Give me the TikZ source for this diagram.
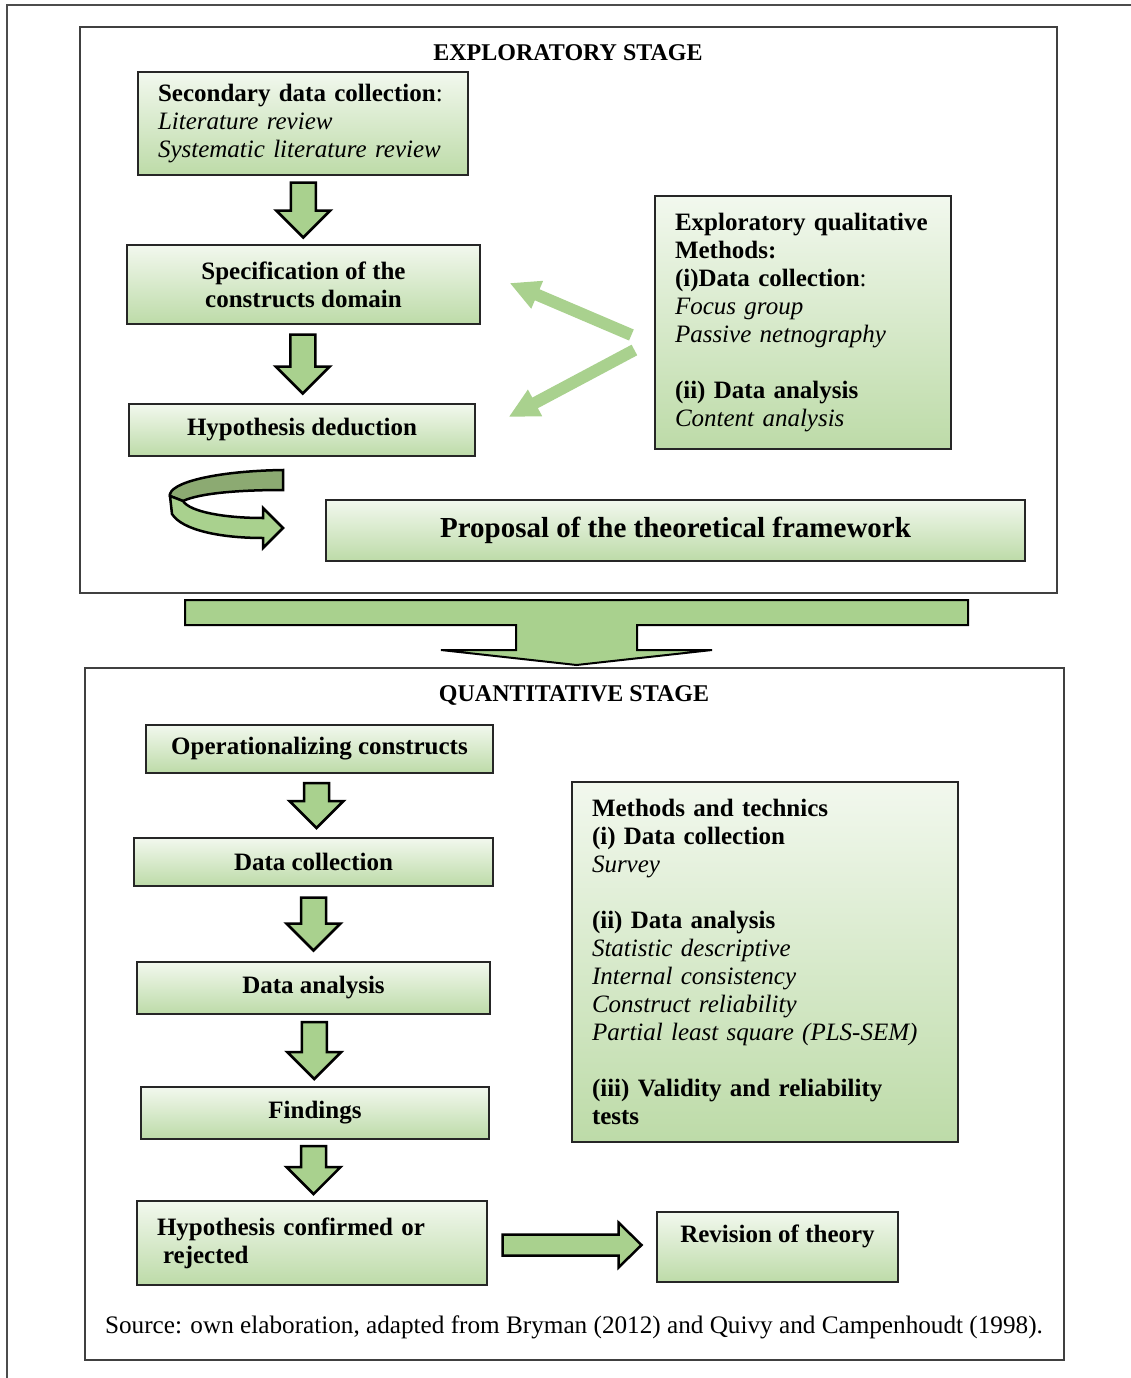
\documentclass[tikz,border=0pt]{standalone}
\usepackage{fontspec}
\setmainfont{Liberation Serif}
\usepackage{xcolor}
\usepackage{tikz}
\usetikzlibrary{calc,arrows.meta}

\definecolor{vertfleche}{HTML}{A9D18E}
\definecolor{vertfonce}{HTML}{8CAA72}
\definecolor{verthaut}{HTML}{F2F8EE}
\definecolor{vertbas}{HTML}{BDDBA8}

\begin{document}
\begin{tikzpicture}[x=1pt,y=-1pt]
% Styles (MODIFIABLES)
\tikzstyle{boite}=[draw=black!85,line width=1.2pt,top color=verthaut,bottom color=vertbas,inner sep=0pt,font=\fontsize{25}{28}\selectfont\bfseries,align=center]
\tikzstyle{boiteliste}=[boite,font=\fontsize{25}{28}\selectfont,align=left,inner xsep=20pt]
\tikzstyle{etape}=[draw=black!75,line width=1.5pt,inner sep=0pt]
\tikzstyle{titre}=[font=\fontsize{24}{28}\selectfont\bfseries]
\tikzstyle{flechebloc}=[draw=black,line width=2.5pt,fill=vertfleche,line join=miter]
\tikzstyle{flechefine}=[vertfleche,line width=12pt,-{Triangle[length=30pt,width=28pt]}]
% Fleches epaisses (NON MODIFIABLES)
\def\FlecheBas#1#2#3{\draw[flechebloc] ($(#1.south)!0.5!(#2.north)$) ++(-12.5,{-#3/2}) -- ++(25,0) -- ++(0,{#3-27}) -- ++(14.5,0) -- ++(-27,27) -- ++(-27,-27) -- ++(14.5,0) -- cycle;}
\def\FlecheDroite#1#2#3{\draw[flechebloc] ($(#1.east)!0.5!(#2.west)$) ++({-#3/2},-10.5) -- ++({#3-23},0) -- ++(0,-12) -- ++(23,22.5) -- ++(-23,22.5) -- ++(0,-12) -- ++({23-#3},0) -- cycle;}
\useasboundingbox (0,0) rectangle (1131,1378);
% Cadre
\draw[black!70,line width=1.2pt] (7,1378) -- (7,5) -- (1131,5);
% Etapes
\node[etape,minimum width=977pt,minimum height=566pt] (explo) at (568.5,310) {};
\node[etape,minimum width=979pt,minimum height=692pt] (quanti) at (574.5,1014) {};
\node[titre] (titreexplo) at (568,53) {EXPLORATORY STAGE};
\node[titre] (titrequanti) at (574,695) {QUANTITATIVE STAGE};
% Noeuds (etape exploratoire)
\node[boiteliste,minimum width=330pt,minimum height=103pt,text width=290pt] (sec) at (303,123.5) {\textbf{Secondary data collection}:\\ \textit{Literature review}\\ \textit{Systematic literature review}};
\node[boite,minimum width=353pt,minimum height=79pt] (spec) at (303.5,284.5) {Specification of the\\ constructs domain};
\node[boite,minimum width=346pt,minimum height=52pt] (hyp) at (302,430) {Hypothesis deduction};
\node[boiteliste,minimum width=296pt,minimum height=253pt,text width=256pt] (qual) at (803,322.5) {\textbf{Exploratory qualitative}\\ \textbf{Methods:}\\ \textbf{(i)Data collection}:\\ \textit{Focus group}\\ \textit{Passive netnography}\\[28pt] \textbf{(ii) Data analysis}\\ \textit{Content analysis}};
\node[boite,minimum width=699pt,minimum height=61pt,font=\fontsize{29}{32}\selectfont\bfseries] (prop) at (675.5,530.5) {Proposal of the theoretical framework};
% Noeuds (etape quantitative)
\node[boite,minimum width=347pt,minimum height=48pt] (oper) at (319.5,749) {Operationalizing constructs};
\node[boite,minimum width=359pt,minimum height=48pt] (collecte) at (313.5,862) {Data collection};
\node[boite,minimum width=353pt,minimum height=52pt] (analyse) at (313.5,988) {Data analysis};
\node[boite,minimum width=348pt,minimum height=52pt] (resultats) at (315,1113) {Findings};
\node[boiteliste,minimum width=350pt,minimum height=84pt,text width=310pt] (confirme) at (312,1243) {\textbf{Hypothesis confirmed or}\\ \hspace*{6pt}\textbf{rejected}};
\node[boite,minimum width=241pt,minimum height=70pt,text depth=26pt] (revision) at (777.5,1247) {Revision of theory};
\node[boiteliste,minimum width=386pt,minimum height=360pt,text width=346pt] (methodes) at (765,962) {\textbf{Methods and technics}\\ \textbf{(i) Data collection}\\ \textit{Survey}\\[28pt] \textbf{(ii) Data analysis}\\ \textit{Statistic descriptive}\\ \textit{Internal consistency}\\ \textit{Construct reliability}\\ \textit{Partial least square (PLS-SEM)}\\[28pt] \textbf{(iii) Validity and reliability}\\ \textbf{tests}};
\node[font=\fontsize{25.2}{28}\selectfont] (source) at (574,1327) {Source: own elaboration, adapted from Bryman (2012) and Quivy and Campenhoudt (1998).};
% Arcs
\FlecheBas{sec}{spec}{55}
\FlecheBas{spec}{hyp}{59}
\FlecheBas{oper}{collecte}{45}
\FlecheBas{collecte}{analyse}{53}
\FlecheBas{analyse}{resultats}{57}
\FlecheBas{resultats}{confirme}{48}
\FlecheDroite{confirme}{revision}{139}
\draw[flechefine] ($(qual.west)+(-23,12.5)$) -- ($(spec.east)+(29,-1.5)$);
\draw[flechefine] ($(qual.west)+(-20,27.5)$) -- ($(hyp.east)+(33,-13)$);
% Fleche courbe
\draw[flechebloc,fill=vertfonce] (283,470) .. controls (215,471) and (168,483) .. (170,496) -- (183,501) .. controls (200,493) and (240,490) .. (283,490) -- cycle;
\draw[flechebloc] (170,496) -- (172,514) .. controls (182,530) and (220,538) .. (263,538) -- (263,548) -- (283,528) -- (263,508) -- (263,518) .. controls (225,518) and (190,512) .. (183,501) -- cycle;
% Fleche entre etapes
\draw[flechebloc,line width=2pt] (185,600) -- (968,600) -- (968,625) -- (637,625) -- (637,650) -- (712,650) -- (576.5,665) -- (441,650) -- (516,650) -- (516,625) -- (185,625) -- cycle;
\end{tikzpicture}
\end{document}
